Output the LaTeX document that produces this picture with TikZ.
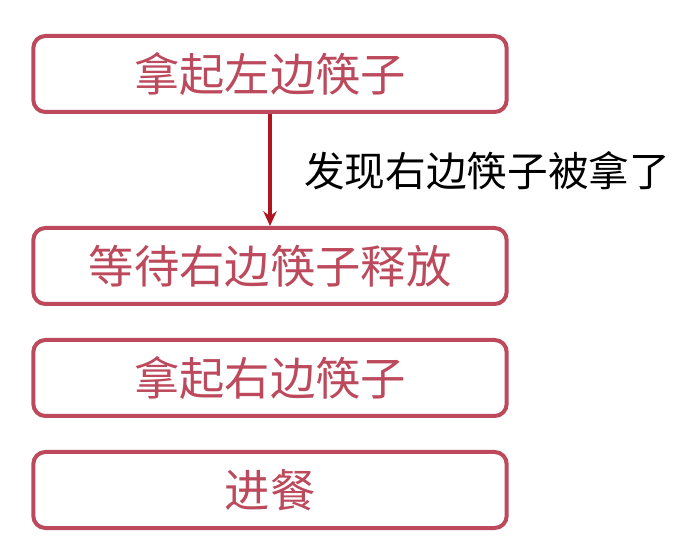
\documentclass[tikz,border=0pt]{standalone}
\usepackage{fontspec}
\usepackage{xcolor}
\usepackage{tikz}
\usetikzlibrary{calc, positioning, arrows.meta}
\newfontfamily\cjk{Noto Sans CJK SC}

\definecolor{hopdo}{HTML}{BC4A5C}
\definecolor{muiten}{HTML}{B0141F}

\begin{document}
\begin{tikzpicture}[x=0.75pt, y=-0.75pt,
    buoc/.style={draw=hopdo, line width=3pt, rounded corners=9pt,
        minimum width=355pt, minimum height=57pt, inner sep=0pt,
        text=hopdo, font=\cjk\fontsize{34}{38}\selectfont},
    ghichu/.style={text=black, inner sep=0pt, font=\cjk\fontsize{30.5}{35}\selectfont}]

    % =================================================================
    % 1. KHUNG HÌNH
    % =================================================================
    \useasboundingbox (0,0) rectangle (678,548);

    % =================================================================
    % 2. CÁC BƯỚC
    % =================================================================
    \node[buoc] (trai) at (270, 74) {拿起左边筷子};
    \node[buoc] (doi) at (270, 266) {等待右边筷子释放};
    \node[buoc] (phai) at (270, 378) {拿起右边筷子};
    \node[buoc] (an) at (270, 490) {进餐};

    % =================================================================
    % 3. MŨI TÊN VÀ NHÃN
    % =================================================================
    \draw[-{Stealth[length=11pt, width=10pt]}, line width=3pt, muiten] (trai.south) -- (doi.north);
    \node[ghichu, anchor=west] (nhan) at (304, 171) {发现右边筷子被拿了};

\end{tikzpicture}
\end{document}
